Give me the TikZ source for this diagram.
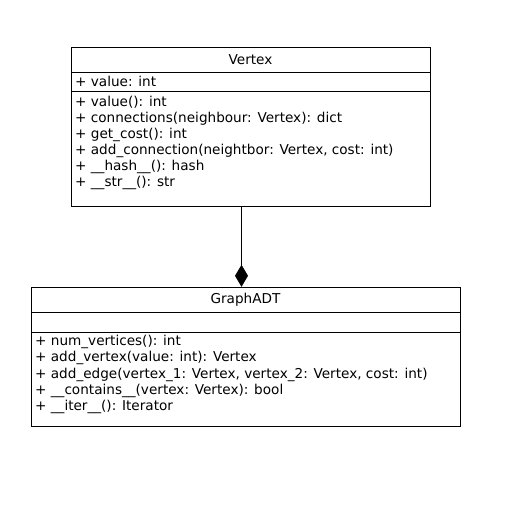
\documentclass[tikz,border=0pt]{standalone}
\usepackage{fontspec}
\setmainfont{DejaVu Sans}
\usetikzlibrary{arrows.meta}
\tikzset{
  umlbox/.style={draw, line width=1pt, inner sep=0pt, fill=white},
  sep/.style={line width=1pt},
  txt/.style={anchor=west, inner sep=0pt, font=\fontsize{13.6}{16}\selectfont},
  ttl/.style={inner sep=0pt, font=\fontsize{13.6}{16}\selectfont},
  conn/.style={line width=1pt, -{Diamond[length=22pt,width=13pt,fill=black]}}
}
\begin{document}
\begin{tikzpicture}[x=1pt,y=-1pt]
\useasboundingbox (0,0) rectangle (510,509);
% Vertex
\node[umlbox, minimum width=359pt, minimum height=159pt] (vertex) at (250.5,126.5) {};
\draw[sep] (71,72.3) -- (430,72.3);
\draw[sep] (71,91.7) -- (430,91.7);
\node[ttl] (vt) at (250.5,60) {Vertex};
\node[txt] (va) at (75,81.5) {+ value: int};
\node[txt] (vm1) at (75,102.7) {+ value(): int};
\node[txt] (vm2) at (75,119) {+ connections(neighbour: Vertex): dict};
\node[txt] (vm3) at (75,135) {+ get\_cost(): int};
\node[txt] (vm4) at (75,151) {+ add\_connection(neightbor: Vertex, cost: int)};
\node[txt] (vm5) at (75,167) {+ \_\_hash\_\_(): hash};
\node[txt] (vm6) at (75,183.3) {+ \_\_str\_\_(): str};
% GraphADT
\node[umlbox, minimum width=429pt, minimum height=139.4pt] (graph) at (245.5,357) {};
\draw[sep] (31,312.3) -- (460,312.3);
\draw[sep] (31,332.3) -- (460,332.3);
\node[ttl] (gt) at (245.5,300) {GraphADT};
\node[txt] (gm1) at (35,341.7) {+ num\_vertices(): int};
\node[txt] (gm2) at (35,358.3) {+ add\_vertex(value: int): Vertex};
\node[txt] (gm3) at (35,374.7) {+ add\_edge(vertex\_1: Vertex, vertex\_2: Vertex, cost: int)};
\node[txt] (gm4) at (35,391) {+ \_\_contains\_\_(vertex: Vertex): bool};
\node[txt] (gm5) at (35,407) {+ \_\_iter\_\_(): Iterator};
% connector
\coordinate (cx) at (241.5,0);
\draw[conn] (vertex.south -| cx) -- (graph.north -| cx);
\end{tikzpicture}
\end{document}
